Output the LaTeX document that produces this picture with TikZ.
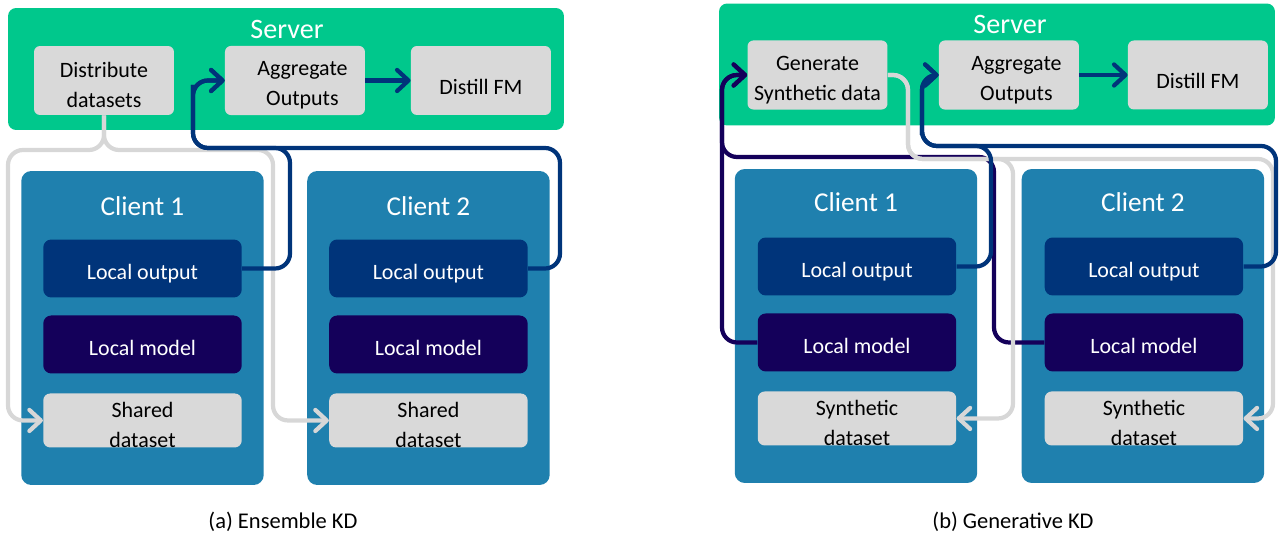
\documentclass[tikz,border=0pt]{standalone}
\usepackage{fontspec}
\setmainfont{Carlito}
\usetikzlibrary{positioning}
\usetikzlibrary{arrows.meta}
\definecolor{servergreen}{RGB}{0,200,140}
\definecolor{clientblue}{RGB}{31,128,174}
\definecolor{outblue}{RGB}{0,52,122}
\definecolor{modelnavy}{RGB}{20,0,90}
\definecolor{boxgray}{RGB}{217,217,217}
\definecolor{linegray}{RGB}{215,215,215}
\newcommand{\lowr}{\rule{0pt}{0.48cm}}
\tikzstyle{serverbox} = [rectangle, rounded corners=0.16cm, minimum width=11.12cm, minimum height=2.44cm, fill=servergreen]
\tikzstyle{srvtitle} = [text=white, font=\fontsize{16}{19}\selectfont]
\tikzstyle{srvbox} = [rectangle, rounded corners=0.12cm, minimum width=2.8cm, minimum height=1.38cm, align=center, fill=boxgray, font=\fontsize{12.5}{17}\selectfont]
\tikzstyle{clientbox} = [rectangle, rounded corners=0.2cm, minimum width=4.85cm, minimum height=6.28cm, fill=clientblue]
\tikzstyle{cltitle} = [text=white, font=\fontsize{15.5}{18}\selectfont]
\tikzstyle{outbox} = [rectangle, rounded corners=0.16cm, minimum width=3.97cm, minimum height=1.16cm, text height=0.55cm, text depth=0.09cm, fill=outblue, text=white, font=\fontsize{12.5}{17}\selectfont]
\tikzstyle{modelbox} = [rectangle, rounded corners=0.16cm, minimum width=3.97cm, minimum height=1.16cm, text height=0.55cm, text depth=0.09cm, fill=modelnavy, text=white, font=\fontsize{12.5}{17}\selectfont]
\tikzstyle{databox} = [rectangle, rounded corners=0.14cm, minimum width=3.97cm, minimum height=1.04cm, align=center, inner ysep=0pt, fill=boxgray, font=\fontsize{12.5}{17}\selectfont]
\tikzstyle{caption} = [font=\fontsize{12.8}{16}\selectfont]
\tikzstyle{bluearrow} = [line width=2.4pt, draw=outblue, rounded corners=0.3cm, -{Straight Barb[round,length=6.5pt,width=12pt]}]
\tikzstyle{navyarrow} = [line width=2.4pt, draw=modelnavy, rounded corners=0.3cm, -{Straight Barb[round,length=6.5pt,width=12pt]}]
\tikzstyle{grayarrow} = [line width=2.4pt, draw=linegray, rounded corners=0.3cm, -{Straight Barb[round,length=6.5pt,width=12pt]}]

\begin{document}
\begin{tikzpicture}[x=0.02cm, y=-0.02cm, node distance=1.52cm]
        \useasboundingbox (0,0) rectangle (1279,543);
        % (a) ensemble KD
        \node (srv1) [serverbox] at (286,69) {};
        \node (srv1t) [srvtitle] at (287,29) {Server};
        \node (dis) [srvbox] at (104,80.5) {\lowr Distribute\\datasets};
        \node (agg1) [srvbox, right of=dis, xshift=2.3cm] {\lowr\hspace*{0.3cm}Aggregate\\\hspace*{0.3cm}Outputs};
        \node (dst1) [srvbox, right of=agg1, xshift=2.2cm, text height=0.55cm, text depth=0cm] {Distill FM};
        \node (cl1) [clientbox] at (142.5,328) {};
        \node (cl1t) [cltitle] at (142.5,206) {Client 1};
        \node (lo1) [outbox] at (142.5,268.5) {Local output};
        \node (lm1) [modelbox, below of=lo1] {Local model};
        \node (sd1) [databox, below of=lm1] {\lowr Shared\\dataset};
        \node (cl2) [clientbox, right of=cl1, xshift=4.2cm] {};
        \node (cl2t) [cltitle, right of=cl1t, xshift=4.2cm] {Client 2};
        \node (lo2) [outbox, right of=lo1, xshift=4.2cm] {Local output};
        \node (lm2) [modelbox, below of=lo2] {Local model};
        \node (sd2) [databox, below of=lm2] {\lowr Shared\\dataset};
        \node (capa) [caption] at (283,522) {(a) Ensemble KD};

        % (b) generative KD
        \node (srv2) [serverbox] at (997,64.5) {};
        \node (srv2t) [srvtitle] at (1010,24) {Server};
        \node (gen) [srvbox] at (817.5,75) {\lowr Generate\\Synthetic data};
        \node (agg2) [srvbox, right of=gen, xshift=2.31cm] {\lowr\hspace*{0.3cm}Aggregate\\\hspace*{0.3cm}Outputs};
        \node (dst2) [srvbox, right of=agg2, xshift=2.26cm, text height=0.55cm, text depth=0cm] {Distill FM};
        \node (cl3) [clientbox] at (856,326) {};
        \node (cl3t) [cltitle] at (856,202) {Client 1};
        \node (lo3) [outbox] at (857,266.5) {Local output};
        \node (lm3) [modelbox, below of=lo3] {Local model};
        \node (sy3) [databox, below of=lm3] {\lowr Synthetic\\dataset};
        \node (cl4) [clientbox, right of=cl3, xshift=4.22cm] {};
        \node (cl4t) [cltitle, right of=cl3t, xshift=4.22cm] {Client 2};
        \node (lo4) [outbox, right of=lo3, xshift=4.22cm] {Local output};
        \node (lm4) [modelbox, below of=lo4] {Local model};
        \node (sy4) [databox, below of=lm4] {\lowr Synthetic\\dataset};
        \node (capb) [caption] at (1013,522) {(b) Generative KD};

        \draw [grayarrow] (dis.south) |- (8,150) |- (sd1.west);
        \draw [grayarrow] (dis.south) |- (273,150) |- (sd2.west);
        \draw [bluearrow] (lo1.east) -| (290,148) -| (193,100) |- (agg1.west);
        \draw [bluearrow] (lo2.east) -| (560,148) -| (193,100) |- (agg1.west);
        \draw [bluearrow] (agg1) -- (dst1);

        \draw [navyarrow] (lm3.west) -| (722,157) |- (gen.west);
        \draw [navyarrow] (lm4.west) -| (994,157) -| (722,120) |- (gen.west);
        \draw [grayarrow] (gen.east) -| (908,159) -| (1013,300) |- (sy3.east);
        \draw [grayarrow] (gen.east) -| (908,159) -| (1273,300) |- (sy4.east);
        \draw [bluearrow] (lo3.east) -| (991,146) -| (922,120) |- (agg2.west);
        \draw [bluearrow] (lo4.east) -| (1276,146) -| (922,120) |- (agg2.west);
        \draw [bluearrow] (agg2) -- (dst2);

    \end{tikzpicture}
\end{document}
